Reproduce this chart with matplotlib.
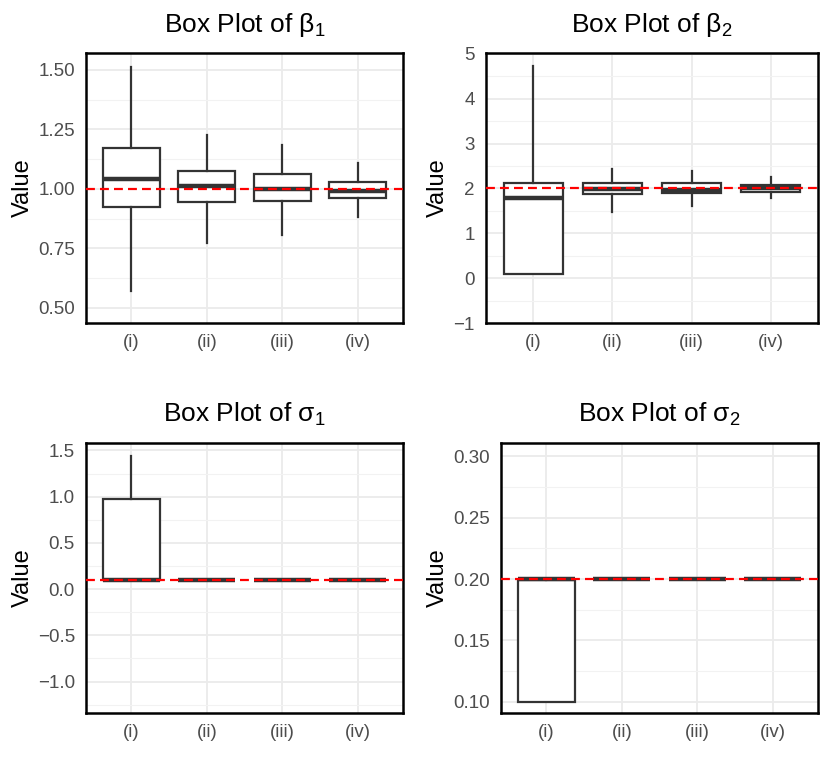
import numpy as np
import matplotlib
matplotlib.use('Agg')
import matplotlib.pyplot as plt
from matplotlib.ticker import MultipleLocator

plt.rcParams['font.family'] = ['Liberation Sans', 'DejaVu Sans']
plt.rcParams['mathtext.fontset'] = 'custom'
plt.rcParams['mathtext.rm'] = 'Liberation Sans'
plt.rcParams['mathtext.it'] = 'Liberation Sans'

# categorias
metodos = ['(i)', '(ii)', '(iii)', '(iv)']

# estadisticos de caja: [whis_bajo, q1, mediana, q3, whis_alto]
beta1_stats = [
    [0.571, 0.924, 1.042, 1.172, 1.511],
    [0.774, 0.945, 1.011, 1.074, 1.228],
    [0.808, 0.950, 0.999, 1.063, 1.184],
    [0.884, 0.962, 0.993, 1.029, 1.108],
]
beta2_stats = [
    [0.10, 0.10, 1.79, 2.13, 4.74],
    [1.48, 1.875, 1.98, 2.13, 2.43],
    [1.61, 1.90, 1.97, 2.13, 2.38],
    [1.79, 1.93, 2.00, 2.07, 2.25],
]
sigma1_stats = [
    [0.10, 0.10, 0.10, 0.975, 1.443],
    [0.10, 0.10, 0.10, 0.10, 0.10],
    [0.10, 0.10, 0.10, 0.10, 0.10],
    [0.10, 0.10, 0.10, 0.10, 0.10],
]
sigma2_stats = [
    [0.10, 0.10, 0.20, 0.199, 0.20],
    [0.20, 0.20, 0.20, 0.20, 0.20],
    [0.20, 0.20, 0.20, 0.20, 0.20],
    [0.20, 0.20, 0.20, 0.20, 0.20],
]

valores_reales = [1.0, 2.0, 0.1, 0.2]
titulos = [r'Box Plot of $\mathregular{\beta_1}$', r'Box Plot of $\mathregular{\beta_2}$',
           r'Box Plot of $\mathregular{\sigma_1}$', r'Box Plot of $\mathregular{\sigma_2}$']
limites_y = [(0.437, 1.571), (-1.0, 5.02), (-1.34, 1.58), (0.0908, 0.311)]
paso_mayor = [0.25, 1.0, 0.5, 0.05]
formatos = ['{:.2f}', '{:.0f}', '{:.1f}', '{:.2f}']
todas = [beta1_stats, beta2_stats, sigma1_stats, sigma2_stats]

posiciones = [
    [86/830, 458/781, 317/830, 270/781],
    [486/830, 458/781, 332/830, 270/781],
    [86/830, 68/781, 317/830, 270/781],
    [501/830, 68/781, 317/830, 270/781],
]

fig = plt.figure(figsize=(8.3, 7.81), dpi=100)
gris_caja = '#333333'

for k in range(4):
    ax = fig.add_axes(posiciones[k])
    stats = []
    for nombre, s in zip(metodos, todas[k]):
        stats.append({'whislo': s[0], 'q1': s[1], 'med': s[2], 'q3': s[3],
                      'whishi': s[4], 'fliers': [], 'label': nombre})
    ax.bxp(stats, positions=np.arange(1, 5), widths=0.75, patch_artist=True,
           showcaps=False, showfliers=False,
           boxprops=dict(facecolor='white', edgecolor=gris_caja, linewidth=1.6),
           whiskerprops=dict(color=gris_caja, linewidth=1.6),
           medianprops=dict(color=gris_caja, linewidth=3.2, solid_capstyle='butt'),
           zorder=3)
    ax.axhline(valores_reales[k], color='red', linestyle=(0, (4, 2.3)), linewidth=1.6, zorder=5)

    ax.set_xlim(0.4, 4.6)
    ax.set_ylim(*limites_y[k])
    ax.yaxis.set_major_locator(MultipleLocator(paso_mayor[k]))
    ax.yaxis.set_minor_locator(MultipleLocator(paso_mayor[k] / 2))
    ticks = [t for t in ax.get_yticks() if limites_y[k][0] - 1e-9 <= t <= limites_y[k][1]]
    ax.set_yticks(ticks)
    ax.set_yticklabels([formatos[k].format(t).replace('-', '\u2212') for t in ticks])
    ax.set_xticks(np.arange(1, 5))
    ax.set_xticklabels(metodos)

    ax.grid(True, which='major', color='#EBEBEB', linewidth=1.3, zorder=0)
    ax.grid(True, which='minor', axis='y', color='#F2F2F2', linewidth=0.8, zorder=0)
    ax.set_axisbelow(True)
    ax.tick_params(which='both', length=0, labelsize=13.5, labelcolor='#4D4D4D')
    ax.tick_params(axis='y', pad=8)
    ax.tick_params(axis='x', pad=8)
    for sp in ax.spines.values():
        sp.set_color('black')
        sp.set_linewidth(1.8)
    ax.set_ylabel('Value', fontsize=17, labelpad=3)
    ax.set_title(titulos[k], fontsize=19, pad=15)

fig.savefig('out.png', dpi=100)
